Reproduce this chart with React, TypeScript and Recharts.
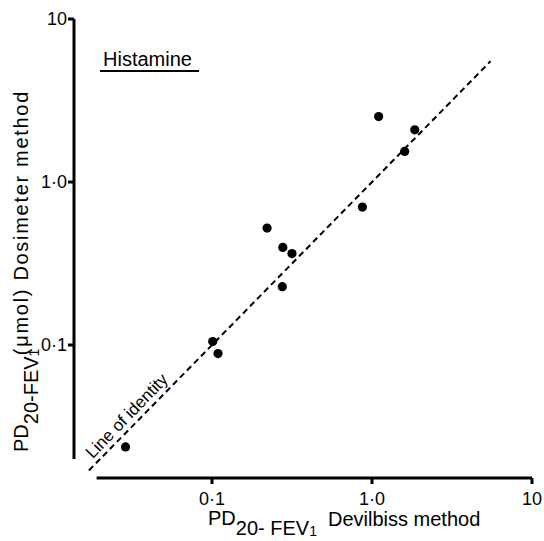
import {
  ScatterChart,
  Scatter,
  XAxis,
  YAxis,
  ReferenceLine,
  ReferenceDot,
} from "recharts";

// PD20-FEV1 (umol)
const devilbiss = [0.0288, 0.101, 0.109, 0.221, 0.277, 0.316, 0.275, 0.871, 1.1, 1.6, 1.85];
const dosimeter = [0.0237, 0.105, 0.0886, 0.522, 0.397, 0.364, 0.228, 0.702, 2.52, 1.54, 2.09];

const tickValues = [0.1, 1, 10];
const tickLabels = ["0·1", "1·0", "10"];

const identityEnds = [0.017, 5.5];
const xDomain = [0.01372, 10];
const yDomain = [0.01528, 10];
const xAxisFrom = 0.019;
const yAxisFrom = 0.02;
const identityLabelAt = { x: 0.0294, y: 0.0367 };

const FONT = "'Liberation Sans', Arial, sans-serif";

const points = devilbiss.map((x, i) => ({ x, y: dosimeter[i] }));

function fmt(v: number) {
  const i = tickValues.findIndex((t) => Math.abs(t - v) < 1e-9);
  return i >= 0 ? tickLabels[i] : String(v);
}

function Dot(props: any) {
  return <circle cx={props.cx} cy={props.cy} r={4.6} fill="#000" />;
}

function XTitle(props: any) {
  const { x, y } = props.viewBox;
  return (
    <g fontFamily={FONT} fill="#000">
      <text x={x + 134} y={y + 47} fontSize={20}>
        PD
        <tspan dy={10}>20- FEV</tspan>
        <tspan fontSize={14} dy={1}>1</tspan>
      </text>
      <text x={x + 254} y={y + 48} fontSize={20}>
        Devilbiss method
      </text>
    </g>
  );
}

function YTitle(props: any) {
  const { x, y } = props.viewBox;
  const ax = x + 28;
  const ay = y + 433;
  const by = y + 71;
  return (
    <g fontFamily={FONT} fill="#000">
      <text x={ax} y={ay} fontSize={20} transform={`rotate(-90, ${ax}, ${ay})`}>
        PD
        <tspan dy={10}>20-FEV</tspan>
        <tspan fontSize={14} dy={1}>1</tspan>
      </text>
      <text
        x={ax}
        y={by}
        fontSize={20}
        letterSpacing={1.7}
        textAnchor="end"
        transform={`rotate(-90, ${ax}, ${by})`}
      >
        (μmol) Dosimeter method
      </text>
    </g>
  );
}

function IdentityLabel(props: any) {
  const { x, y } = props.viewBox;
  return (
    <text
      x={x}
      y={y}
      fontFamily={FONT}
      fontSize={17}
      fill="#000"
      textAnchor="middle"
      dominantBaseline="central"
      transform={`rotate(-46, ${x}, ${y})`}
    >
      Line of identity
    </text>
  );
}

export default function App() {
  return (
    <div style={{ position: "absolute", left: 0, top: 0 }}>
      <ScatterChart
        width={544}
        height={541}
        margin={{ top: 19, right: 12, left: 0, bottom: 0 }}
      >
        <XAxis
          type="number"
          dataKey="x"
          scale="log"
          domain={xDomain}
          allowDataOverflow
          ticks={tickValues}
          tickFormatter={fmt}
          axisLine={false}
          tickLine={{ stroke: "#000", strokeWidth: 3 }}
          tickSize={6}
          tickMargin={8}
          height={63}
          tick={{ fill: "#000", fontSize: 18, fontFamily: FONT }}
          label={{ content: XTitle }}
        />
        <YAxis
          type="number"
          dataKey="y"
          scale="log"
          domain={yDomain}
          allowDataOverflow
          ticks={tickValues}
          tickFormatter={fmt}
          axisLine={false}
          tickLine={{ stroke: "#000", strokeWidth: 3 }}
          tickSize={6}
          tickMargin={1}
          width={74}
          tick={{ fill: "#000", fontSize: 18, fontFamily: FONT }}
          label={{ content: YTitle }}
        />
        <ReferenceLine
          segment={[
            { x: xDomain[0], y: yAxisFrom },
            { x: xDomain[0], y: yDomain[1] },
          ]}
          stroke="#000"
          strokeWidth={3}
          ifOverflow="visible"
        />
        <ReferenceLine
          segment={[
            { x: xAxisFrom, y: yDomain[0] },
            { x: xDomain[1], y: yDomain[0] },
          ]}
          stroke="#000"
          strokeWidth={3}
          ifOverflow="visible"
        />
        <ReferenceLine
          segment={[
            { x: identityEnds[0], y: identityEnds[0] },
            { x: identityEnds[1], y: identityEnds[1] },
          ]}
          stroke="#000"
          strokeWidth={2}
          strokeDasharray="6 4"
          ifOverflow="visible"
        />
        <ReferenceDot
          x={identityLabelAt.x}
          y={identityLabelAt.y}
          r={0}
          fill="none"
          stroke="none"
          ifOverflow="visible"
          label={{ content: IdentityLabel }}
        />
        <Scatter data={points} shape={Dot} isAnimationActive={false} />
        <g fontFamily={FONT} fill="#000">
          <text x={103} y={66} fontSize={20}>
            Histamine
          </text>
          <line x1={100} y1={71} x2={199} y2={71} stroke="#000" strokeWidth={2} />
        </g>
      </ScatterChart>
    </div>
  );
}
